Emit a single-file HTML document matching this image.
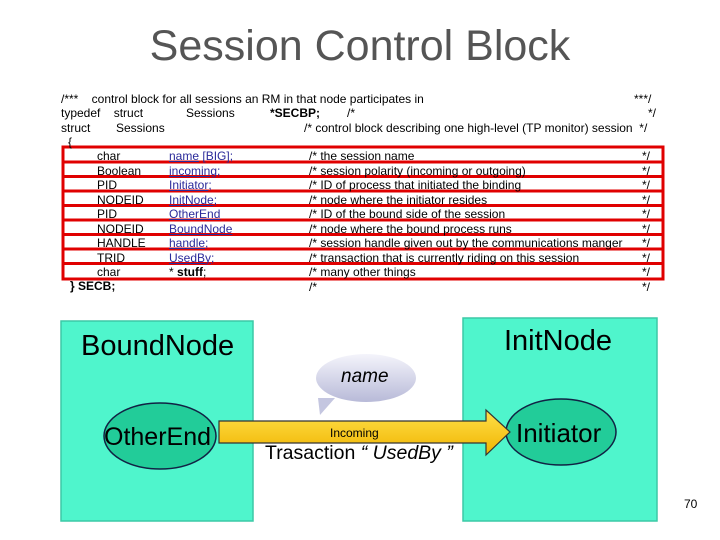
<!DOCTYPE html>
<html><head><meta charset="utf-8"><style>
body{margin:0;width:720px;height:540px;background:#fff;position:relative;overflow:hidden;font-family:"Liberation Sans",sans-serif}
.t{position:absolute;font-size:12px;line-height:14px;white-space:nowrap;color:#000}
.b{color:#2a2a9a}
</style></head><body>
<svg width="720" height="540" style="position:absolute;left:0;top:0">
<defs>
<linearGradient id="bub" x1="0" y1="0" x2="0" y2="1"><stop offset="0" stop-color="#f4f4fb"/><stop offset="1" stop-color="#b8bad8"/></linearGradient>
<linearGradient id="arr" x1="0" y1="0" x2="0" y2="1"><stop offset="0" stop-color="#ffe14a"/><stop offset="1" stop-color="#f0b400"/></linearGradient>
</defs>
<g fill="none" stroke="#e00000" stroke-width="3">
<rect x="63" y="147" width="600" height="132"/>
<line x1="63" y1="162" x2="663" y2="162"/>
<line x1="63" y1="176.5" x2="663" y2="176.5"/>
<line x1="63" y1="191" x2="663" y2="191"/>
<line x1="63" y1="205.5" x2="663" y2="205.5"/>
<line x1="63" y1="220" x2="663" y2="220"/>
<line x1="63" y1="234.5" x2="663" y2="234.5"/>
<line x1="63" y1="249" x2="663" y2="249"/>
<line x1="63" y1="263.5" x2="663" y2="263.5"/>
</g>
<rect x="61" y="321" width="192" height="200" fill="#4ff5cc" stroke="#3cc9a6" stroke-width="1.5"/>
<rect x="463" y="318" width="194" height="203" fill="#4ff5cc" stroke="#3cc9a6" stroke-width="1.5"/>
<ellipse cx="160" cy="436" rx="56" ry="33" fill="#22cc99" stroke="#124" stroke-width="1.5"/>
<ellipse cx="561" cy="432" rx="55" ry="33" fill="#22cc99" stroke="#124" stroke-width="1.5"/>
<path d="M318,398 L320,415 L335,398 Z" fill="#c4c6e0"/>
<ellipse cx="366" cy="378" rx="50" ry="24" fill="url(#bub)"/>
<path d="M219,421 L486,421 L486,410 L510,432 L486,455 L486,443 L219,443 Z" fill="url(#arr)" stroke="#333" stroke-width="1.2"/>
</svg>
<div class="t" style="left:0;width:720px;top:20px;text-align:center;font-size:43px;line-height:52px;color:#555">Session Control Block</div>
<div class="t" style="left:61px;top:92px">/***&nbsp;&nbsp;&nbsp; control block for all sessions an RM in that node participates in</div>
<div class="t" style="left:634px;top:92px">***/</div>
<div class="t" style="left:61px;top:106px">typedef&nbsp;&nbsp;&nbsp; struct</div>
<div class="t" style="left:186px;top:106px">Sessions</div>
<div class="t" style="left:270px;top:106px"><b>*SECBP;</b></div>
<div class="t" style="left:347px;top:106px">/*</div>
<div class="t" style="left:648px;top:106px">*/</div>
<div class="t" style="left:61px;top:121px">struct</div>
<div class="t" style="left:116px;top:121px">Sessions</div>
<div class="t" style="left:304px;top:121px">/* control block describing one high-level (TP monitor) session&nbsp; */</div>
<div class="t" style="left:68px;top:135px">{</div>
<div class="t" style="left:97px;top:149px;line-height:14.5px">char<br>Boolean<br>PID<br>NODEID<br>PID<br>NODEID<br>HANDLE<br>TRID<br>char</div>
<div class="t b" style="left:169px;top:149px;line-height:14.5px"><u>name</u> [BIG];<br><u>incoming</u>;<br><u>Initiator</u>;<br><u>InitNode</u>;<br><u>OtherEnd</u><br><u>BoundNode</u><br><u>handle</u>;<br><u>UsedBy</u>;<br><span style="color:#000">* <b>stuff</b>;</span></div>
<div class="t" style="left:309px;top:149px;line-height:14.5px">/* the session name<br>/* session polarity (incoming or outgoing)<br>/* ID of process that initiated the binding<br>/* node where the initiator resides<br>/* ID of the bound side of the session<br>/* node where the bound process runs<br>/* session handle given out by the communications manger<br>/* transaction that is currently riding on this session<br>/* many other things<br>/*</div>
<div class="t" style="left:642px;top:149px;line-height:14.5px">*/<br>*/<br>*/<br>*/<br>*/<br>*/<br>*/<br>*/<br>*/<br>*/</div>
<div class="t" style="left:70px;top:279px"><b>} SECB;</b></div>
<div class="t" style="left:81px;top:329px;font-size:29px;line-height:34px">BoundNode</div>
<div class="t" style="left:504px;top:324px;font-size:29px;line-height:34px">InitNode</div>
<div class="t" style="left:104px;top:423px;font-size:25px;line-height:28px">OtherEnd</div>
<div class="t" style="left:516px;top:419px;font-size:26px;line-height:28px">Initiator</div>
<div class="t" style="left:341px;top:366px;font-size:19px;line-height:22px;font-style:italic">name</div>
<div class="t" style="left:330px;top:426px;font-size:12px;line-height:14px">Incoming</div>
<div class="t" style="left:265px;top:441px;font-size:19.5px;line-height:24px">Trasaction <i>“ UsedBy ”</i></div>
<div class="t" style="left:684px;top:497px;font-size:12px">70</div>
</body></html>
